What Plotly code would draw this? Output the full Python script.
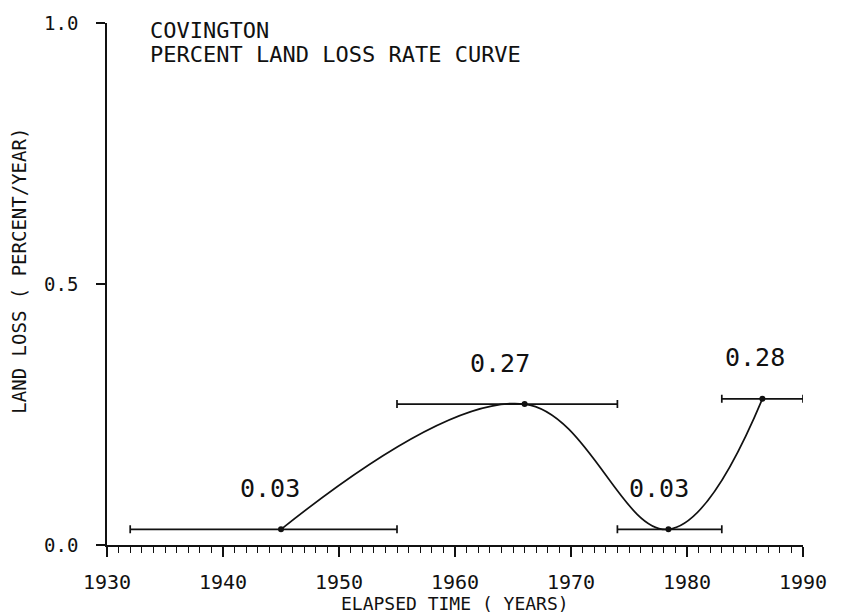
import plotly.graph_objects as go

# Covington land-loss rate per photo-interval
years = [1945, 1966, 1978.4, 1986.5]
rates = [0.03, 0.27, 0.03, 0.28]
period_start = [1932, 1955, 1974, 1983]
period_end = [1955, 1974, 1983, 1990]

x_ticks = [1930, 1940, 1950, 1960, 1970, 1980, 1990]
y_ticks = [0.0, 0.5, 1.0]

title_lines = ["COVINGTON", "PERCENT LAND LOSS RATE CURVE"]
x_title = "ELAPSED TIME ( YEARS)"
y_title = "LAND LOSS ( PERCENT/YEAR)"

MONO = "DejaVu Sans Mono"
INK = "#111111"

# horizontal offsets of value labels (pixels)
label_dx = [-11, -25, -9, -7]

fig = go.Figure()

# smooth rate curve through the interval points
fig.add_trace(go.Scatter(
    x=years, y=rates, mode="lines",
    line=dict(color=INK, width=1.7, shape="spline", smoothing=1.1),
    cliponaxis=False, hoverinfo="skip", showlegend=False,
))

# interval bars with the rate point
fig.add_trace(go.Scatter(
    x=years, y=rates, mode="markers",
    marker=dict(color=INK, size=6),
    error_x=dict(
        type="data", symmetric=False,
        array=[e - y for e, y in zip(period_end, years)],
        arrayminus=[y - s for s, y in zip(period_start, years)],
        color=INK, thickness=1.7, width=4,
    ),
    cliponaxis=False, showlegend=False,
))

annotations = []
for x, y, dx in zip(years, rates, label_dx):
    annotations.append(dict(
        x=x, y=y, xref="x", yref="y", text=f"{y:.2f}", showarrow=False,
        xshift=dx, yshift=41, font=dict(family=MONO, size=25, color=INK),
    ))

annotations.append(dict(
    x=148, y=26, xref="paper", yref="paper", text=title_lines[0],
    showarrow=False, xanchor="left", yanchor="middle",
    font=dict(family=MONO, size=22, color=INK),
))
annotations.append(dict(
    x=148, y=50, xref="paper", yref="paper", text=title_lines[1],
    showarrow=False, xanchor="left", yanchor="middle",
    font=dict(family=MONO, size=22, color=INK),
))
annotations.append(dict(
    x=455, y=604, xref="paper", yref="paper", text=x_title,
    showarrow=False, xanchor="center", yanchor="middle",
    font=dict(family=MONO, size=18, color=INK),
))
annotations.append(dict(
    x=19, y=268, xref="paper", yref="paper", text=y_title, textangle=-90,
    showarrow=False, xanchor="center", yanchor="middle",
    font=dict(family=MONO, size=19, color=INK),
))

# convert pixel-positioned annotations to paper coordinates
W, H = 845, 614
L, R, T, B = 107, 42, 18, 69
pw, ph = W - L - R, H - T - B
for a in annotations:
    if a["xref"] == "paper":
        a["x"] = (a["x"] - L) / pw
        a["y"] = 1 - (a["y"] - T) / ph

fig.update_layout(
    width=W, height=H,
    margin=dict(l=L, r=R, t=T, b=B, pad=0),
    paper_bgcolor="white", plot_bgcolor="white",
    annotations=annotations,
    xaxis=dict(
        range=[1930, 1990], tickvals=x_ticks, ticktext=[str(t) for t in x_ticks],
        showline=True, linecolor=INK, linewidth=1.7,
        ticks="outside", ticklen=10, tickwidth=1.6, tickcolor=INK,
        minor=dict(dtick=1, ticks="outside", ticklen=6, tickwidth=1.3, tickcolor=INK),
        showgrid=False, zeroline=False,
        tickfont=dict(family=MONO, size=20, color=INK),
        ticklabelstandoff=8,
    ),
    yaxis=dict(
        range=[0, 1], tickvals=y_ticks, ticktext=[f"{t:.1f}" for t in y_ticks],
        showline=True, linecolor=INK, linewidth=1.7,
        ticks="outside", ticklen=9, tickwidth=1.6, tickcolor=INK,
        showgrid=False, zeroline=False,
        tickfont=dict(family=MONO, size=19, color=INK),
        ticklabelstandoff=14,
    ),
)

fig.write_html("out.html")
